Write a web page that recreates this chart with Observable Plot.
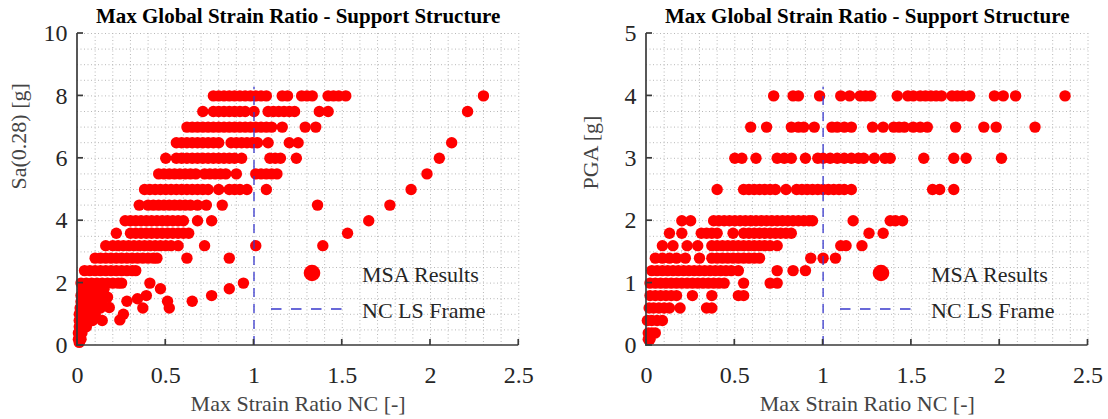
<!DOCTYPE html>
<html><head><meta charset="utf-8">
<script src="https://cdn.jsdelivr.net/npm/d3@7"></script>
<script src="https://cdn.jsdelivr.net/npm/@observablehq/plot@0.6"></script>
<style>
html,body{margin:0;padding:0;background:#fff;}
#wrap{display:flex;width:1108px;height:419px;overflow:hidden;}
#wrap svg{display:block;flex:none;}
</style></head><body><div id="wrap"></div>
<script>
const chartTitle = "Max Global Strain Ratio - Support Structure";
const xLabel = "Max Strain Ratio NC [-]";
const leftYLabel = "Sa(0.28) [g]";
const rightYLabel = "PGA [g]";
const legendLabels = ["MSA Results", "NC LS Frame"];
const xTicks = [0, 0.5, 1, 1.5, 2, 2.5];
const saTicks = [0, 2, 4, 6, 8, 10];
const pgaTicks = [0, 1, 2, 3, 4, 5];
const ncLimit = 1;
const saNcTop = 8.28;
const pgaNcTop = 4.14;

// Left panel: Sa(0.28) stripes
const saLevels = [8, 7.5, 7, 6.5, 6, 5.5, 5, 4.5, 4, 3.6, 3.2, 2.8, 2.4, 2.0];
const saRows = [
  [0.77,0.80,0.83,0.86,0.89,0.92,0.95,0.98,1.01,1.04,1.07,1.16,1.19,1.27,1.30,1.33,1.42,1.45,1.48,1.52,2.30],
  [0.71,0.77,0.80,0.83,0.86,0.89,0.92,0.95,1.00,1.08,1.11,1.14,1.17,1.20,1.23,1.37,1.42,2.21],
  [0.62,0.65,0.68,0.71,0.74,0.77,0.80,0.83,0.86,0.89,0.92,0.95,0.98,1.01,1.04,1.07,1.10,1.16,1.29,1.35],
  [0.56,0.59,0.62,0.65,0.68,0.71,0.74,0.77,0.80,0.87,0.90,0.93,0.96,0.99,1.02,1.08,1.20,1.25,2.12],
  [0.50,0.56,0.59,0.62,0.65,0.68,0.71,0.74,0.77,0.80,0.83,0.86,0.89,0.93,1.09,1.12,1.15,1.24,2.05],
  [0.46,0.49,0.52,0.55,0.58,0.61,0.64,0.67,0.72,0.75,0.78,0.81,0.84,0.90,1.01,1.04,1.07,1.10,1.13,1.98],
  [0.38,0.41,0.44,0.47,0.50,0.53,0.56,0.59,0.62,0.65,0.68,0.71,0.74,0.80,0.86,0.89,0.92,0.96,1.07,1.89],
  [0.35,0.40,0.43,0.46,0.49,0.52,0.55,0.58,0.61,0.64,0.68,0.73,0.82,1.36,1.77],
  [0.27,0.30,0.33,0.36,0.39,0.42,0.45,0.48,0.51,0.54,0.57,0.60,0.68,0.76,1.65],
  [0.22,0.30,0.33,0.36,0.39,0.42,0.45,0.48,0.51,0.54,0.57,0.60,0.63,1.53],
  [0.16,0.20,0.23,0.26,0.29,0.32,0.35,0.38,0.41,0.44,0.47,0.50,0.53,0.57,0.72,1.01,1.39],
  [0.10,0.13,0.16,0.19,0.22,0.25,0.28,0.31,0.34,0.37,0.40,0.43,0.45,0.62,0.86],
  [0.04,0.07,0.10,0.13,0.16,0.19,0.22,0.25,0.28,0.31,0.33],
  [0.02,0.05,0.08,0.11,0.14,0.17,0.20,0.23,0.25,0.41,0.94]
];
// Left panel: low-intensity scattered results
const saLowX = [0.03,0.06,0.09,0.12,0.15, 0.02,0.05,0.08,0.11,0.14, 0.02,0.05,0.08,0.11,0.14, 0.015,0.04,0.07,0.10,0.13,
  0.01,0.04,0.07,0.10, 0.01,0.035,0.06,0.085, 0.01,0.03,0.05, 0.005,0.025, 0.005,0.02, 0.01,
  0.47,0.76,0.86,0.65,0.51,0.52,0.39,0.34,0.28,0.37,0.26,0.24,0.18,0.14,0.17];
const saLowY = [1.8,1.8,1.8,1.8,1.8, 1.6,1.6,1.6,1.6,1.6, 1.4,1.4,1.4,1.4,1.4, 1.2,1.2,1.2,1.2,1.2,
  1.0,1.0,1.0,1.0, 0.8,0.8,0.8,0.8, 0.6,0.6,0.6, 0.4,0.4, 0.2,0.2, 0.1,
  1.82,1.6,1.82,1.42,1.42,1.2,1.6,1.5,1.42,1.2,1.0,0.82,1.22,0.8,1.55];

// Right panel: PGA stripes
const pgaLevels = [4, 3.5, 3, 2.5, 2, 1.8, 1.6, 1.4, 1.2, 1.0, 0.8, 0.6, 0.4, 0.2, 0.1];
const pgaRows = [
  [0.72,0.83,0.86,0.98,1.10,1.15,1.21,1.24,1.27,1.42,1.48,1.51,1.55,1.58,1.61,1.64,1.67,1.73,1.76,1.79,1.83,1.97,2.02,2.09,2.37],
  [0.59,0.68,0.82,0.86,0.89,0.95,1.05,1.08,1.12,1.16,1.28,1.34,1.40,1.43,1.46,1.51,1.55,1.59,1.75,1.91,1.98,2.20],
  [0.50,0.54,0.62,0.74,0.78,0.82,0.90,0.97,1.00,1.04,1.08,1.12,1.16,1.20,1.23,1.29,1.35,1.38,1.57,1.74,1.81,2.01],
  [0.40,0.55,0.58,0.61,0.64,0.67,0.70,0.73,0.79,0.85,0.88,0.91,0.94,0.97,1.00,1.03,1.06,1.09,1.12,1.16,1.62,1.66,1.74],
  [0.20,0.25,0.38,0.41,0.44,0.47,0.50,0.53,0.56,0.59,0.62,0.65,0.68,0.71,0.74,0.77,0.80,0.83,0.86,0.89,0.92,0.94,1.17,1.38,1.41,1.45],
  [0.13,0.20,0.31,0.34,0.37,0.40,0.49,0.55,0.58,0.61,0.64,0.67,0.70,0.73,0.76,0.79,0.82,1.26,1.34],
  [0.09,0.15,0.23,0.29,0.37,0.40,0.43,0.46,0.49,0.52,0.55,0.58,0.61,0.64,0.67,0.70,0.74,1.10,1.13,1.22],
  [0.05,0.09,0.13,0.17,0.22,0.30,0.37,0.40,0.43,0.46,0.49,0.52,0.55,0.58,0.61,0.64,0.93,1.00,1.07],
  [0.03,0.06,0.09,0.12,0.15,0.18,0.21,0.24,0.27,0.30,0.33,0.36,0.39,0.42,0.45,0.48,0.52,0.74,0.83,0.90],
  [0.02,0.05,0.08,0.11,0.14,0.17,0.20,0.23,0.26,0.29,0.32,0.35,0.38,0.41,0.44,0.55,0.70,0.74],
  [0.02,0.05,0.08,0.11,0.14,0.17,0.26,0.37,0.52,0.55],
  [0.015,0.04,0.07,0.10,0.13,0.19,0.34,0.37],
  [0.005,0.03,0.06,0.09],
  [0.01,0.03,0.05],
  [0.01,0.02]
];

const serif = "'Liberation Serif','Times New Roman',serif";
const red = "#ff0000";
const ncColor = "#3838cc";
const gridColor = "#b8b8b8";
const axisColor = "#3a3a3a";
const textColor = "#262626";

function panel(cfg) {
  const pts = [];
  cfg.levels.forEach((lv, i) => cfg.rows[i].forEach(x => pts.push({x, y: lv})));
  (cfg.extraX || []).forEach((x, i) => pts.push({x, y: cfg.extraY[i]}));
  const yMax = cfg.yTicks[cfg.yTicks.length - 1];
  const xMax = xTicks[xTicks.length - 1];
  const xGrid = d3.range(1, 26).map(i => i / 10);
  const yGrid = d3.range(1, Math.round(yMax / cfg.yMinor) + 1).map(i => i * cfg.yMinor);

  const axesMark = (index, scales) => {
    const {x, y} = scales;
    const g = d3.create("svg:g").attr("fill", "none").attr("stroke", axisColor).attr("stroke-width", 1.7);
    g.append("line").attr("x1", x(0)).attr("x2", x(0)).attr("y1", y(0) + 0.8).attr("y2", y(yMax));
    g.append("line").attr("x1", x(0) - 0.8).attr("x2", x(xMax)).attr("y1", y(0)).attr("y2", y(0));
    for (const t of xTicks) g.append("line").attr("x1", x(t)).attr("x2", x(t)).attr("y1", y(0)).attr("y2", y(0) - 6);
    for (const t of cfg.yTicks) g.append("line").attr("x1", x(0)).attr("x2", x(0) + 6).attr("y1", y(t)).attr("y2", y(t));
    return g.node();
  };

  const legendMark = (index, scales, values, dims) => {
    const ml = dims.marginLeft, mt = dims.marginTop;
    const g = d3.create("svg:g");
    g.append("circle").attr("cx", ml + 235).attr("cy", mt + 240).attr("r", 8.3).attr("fill", red);
    g.append("line").attr("x1", ml + 194).attr("x2", ml + 270).attr("y1", mt + 276).attr("y2", mt + 276)
      .attr("stroke", ncColor).attr("stroke-width", 1.4).attr("stroke-dasharray", "10.5,9.5");
    const t = g.append("g").attr("font-family", serif).attr("font-size", 22).attr("fill", textColor).attr("text-anchor", "start");
    t.append("text").attr("x", ml + 285).attr("y", mt + 241).attr("dy", "0.35em").text(legendLabels[0]);
    t.append("text").attr("x", ml + 285).attr("y", mt + 277).attr("dy", "0.35em").text(legendLabels[1]);
    return g.node();
  };

  return Plot.plot({
    width: 554,
    height: 419,
    marginLeft: cfg.marginLeft,
    marginRight: cfg.marginRight,
    marginTop: 33,
    marginBottom: 74,
    style: {background: "white", fontFamily: serif, overflow: "visible"},
    x: {domain: [0, xMax]},
    y: {domain: [0, yMax]},
    marks: [
      Plot.ruleX(xGrid, {stroke: gridColor, strokeWidth: 1, strokeDasharray: "1,2.5"}),
      Plot.ruleY(yGrid, {stroke: gridColor, strokeWidth: 1, strokeDasharray: "1,2.5"}),
      Plot.dot(pts, {x: "x", y: "y", r: 5.7, fill: red, stroke: "none"}),
      Plot.ruleX([ncLimit], {y1: 0, y2: cfg.ncTop, stroke: ncColor, strokeWidth: 1.3, strokeDasharray: "9,7"}),
      axesMark,
      Plot.axisX({ticks: xTicks, tickSize: 0, tickPadding: 20, fontSize: 24, fill: textColor, tickFormat: d => String(d), label: null}),
      Plot.axisY({ticks: cfg.yTicks, tickSize: 0, tickPadding: 10, fontSize: 24, fill: textColor, tickFormat: d => String(d), label: null}),
      Plot.text([chartTitle], {frameAnchor: "top", dy: -17, text: d => d, fontSize: 21, fontWeight: "bold", fill: "#000", lineAnchor: "middle"}),
      Plot.text([xLabel], {frameAnchor: "bottom", dy: 58, text: d => d, fontSize: 22, fill: "#444", lineAnchor: "middle"}),
      Plot.text([cfg.yLabel], {frameAnchor: "left", dx: -cfg.yLabelOffset, rotate: -90, text: d => d, fontSize: 22, fill: "#444", lineAnchor: "middle"}),
      legendMark
    ]
  });
}

const wrap = document.getElementById("wrap");
wrap.appendChild(panel({
  levels: saLevels, rows: saRows, extraX: saLowX, extraY: saLowY,
  yTicks: saTicks, yMinor: 0.5, yLabel: leftYLabel, ncTop: saNcTop,
  marginLeft: 77, marginRight: 35.75, yLabelOffset: 59
}));
wrap.appendChild(panel({
  levels: pgaLevels, rows: pgaRows,
  yTicks: pgaTicks, yMinor: 0.25, yLabel: rightYLabel, ncTop: pgaNcTop,
  marginLeft: 92, marginRight: 20.5, yLabelOffset: 56
}));
</script></body></html>
